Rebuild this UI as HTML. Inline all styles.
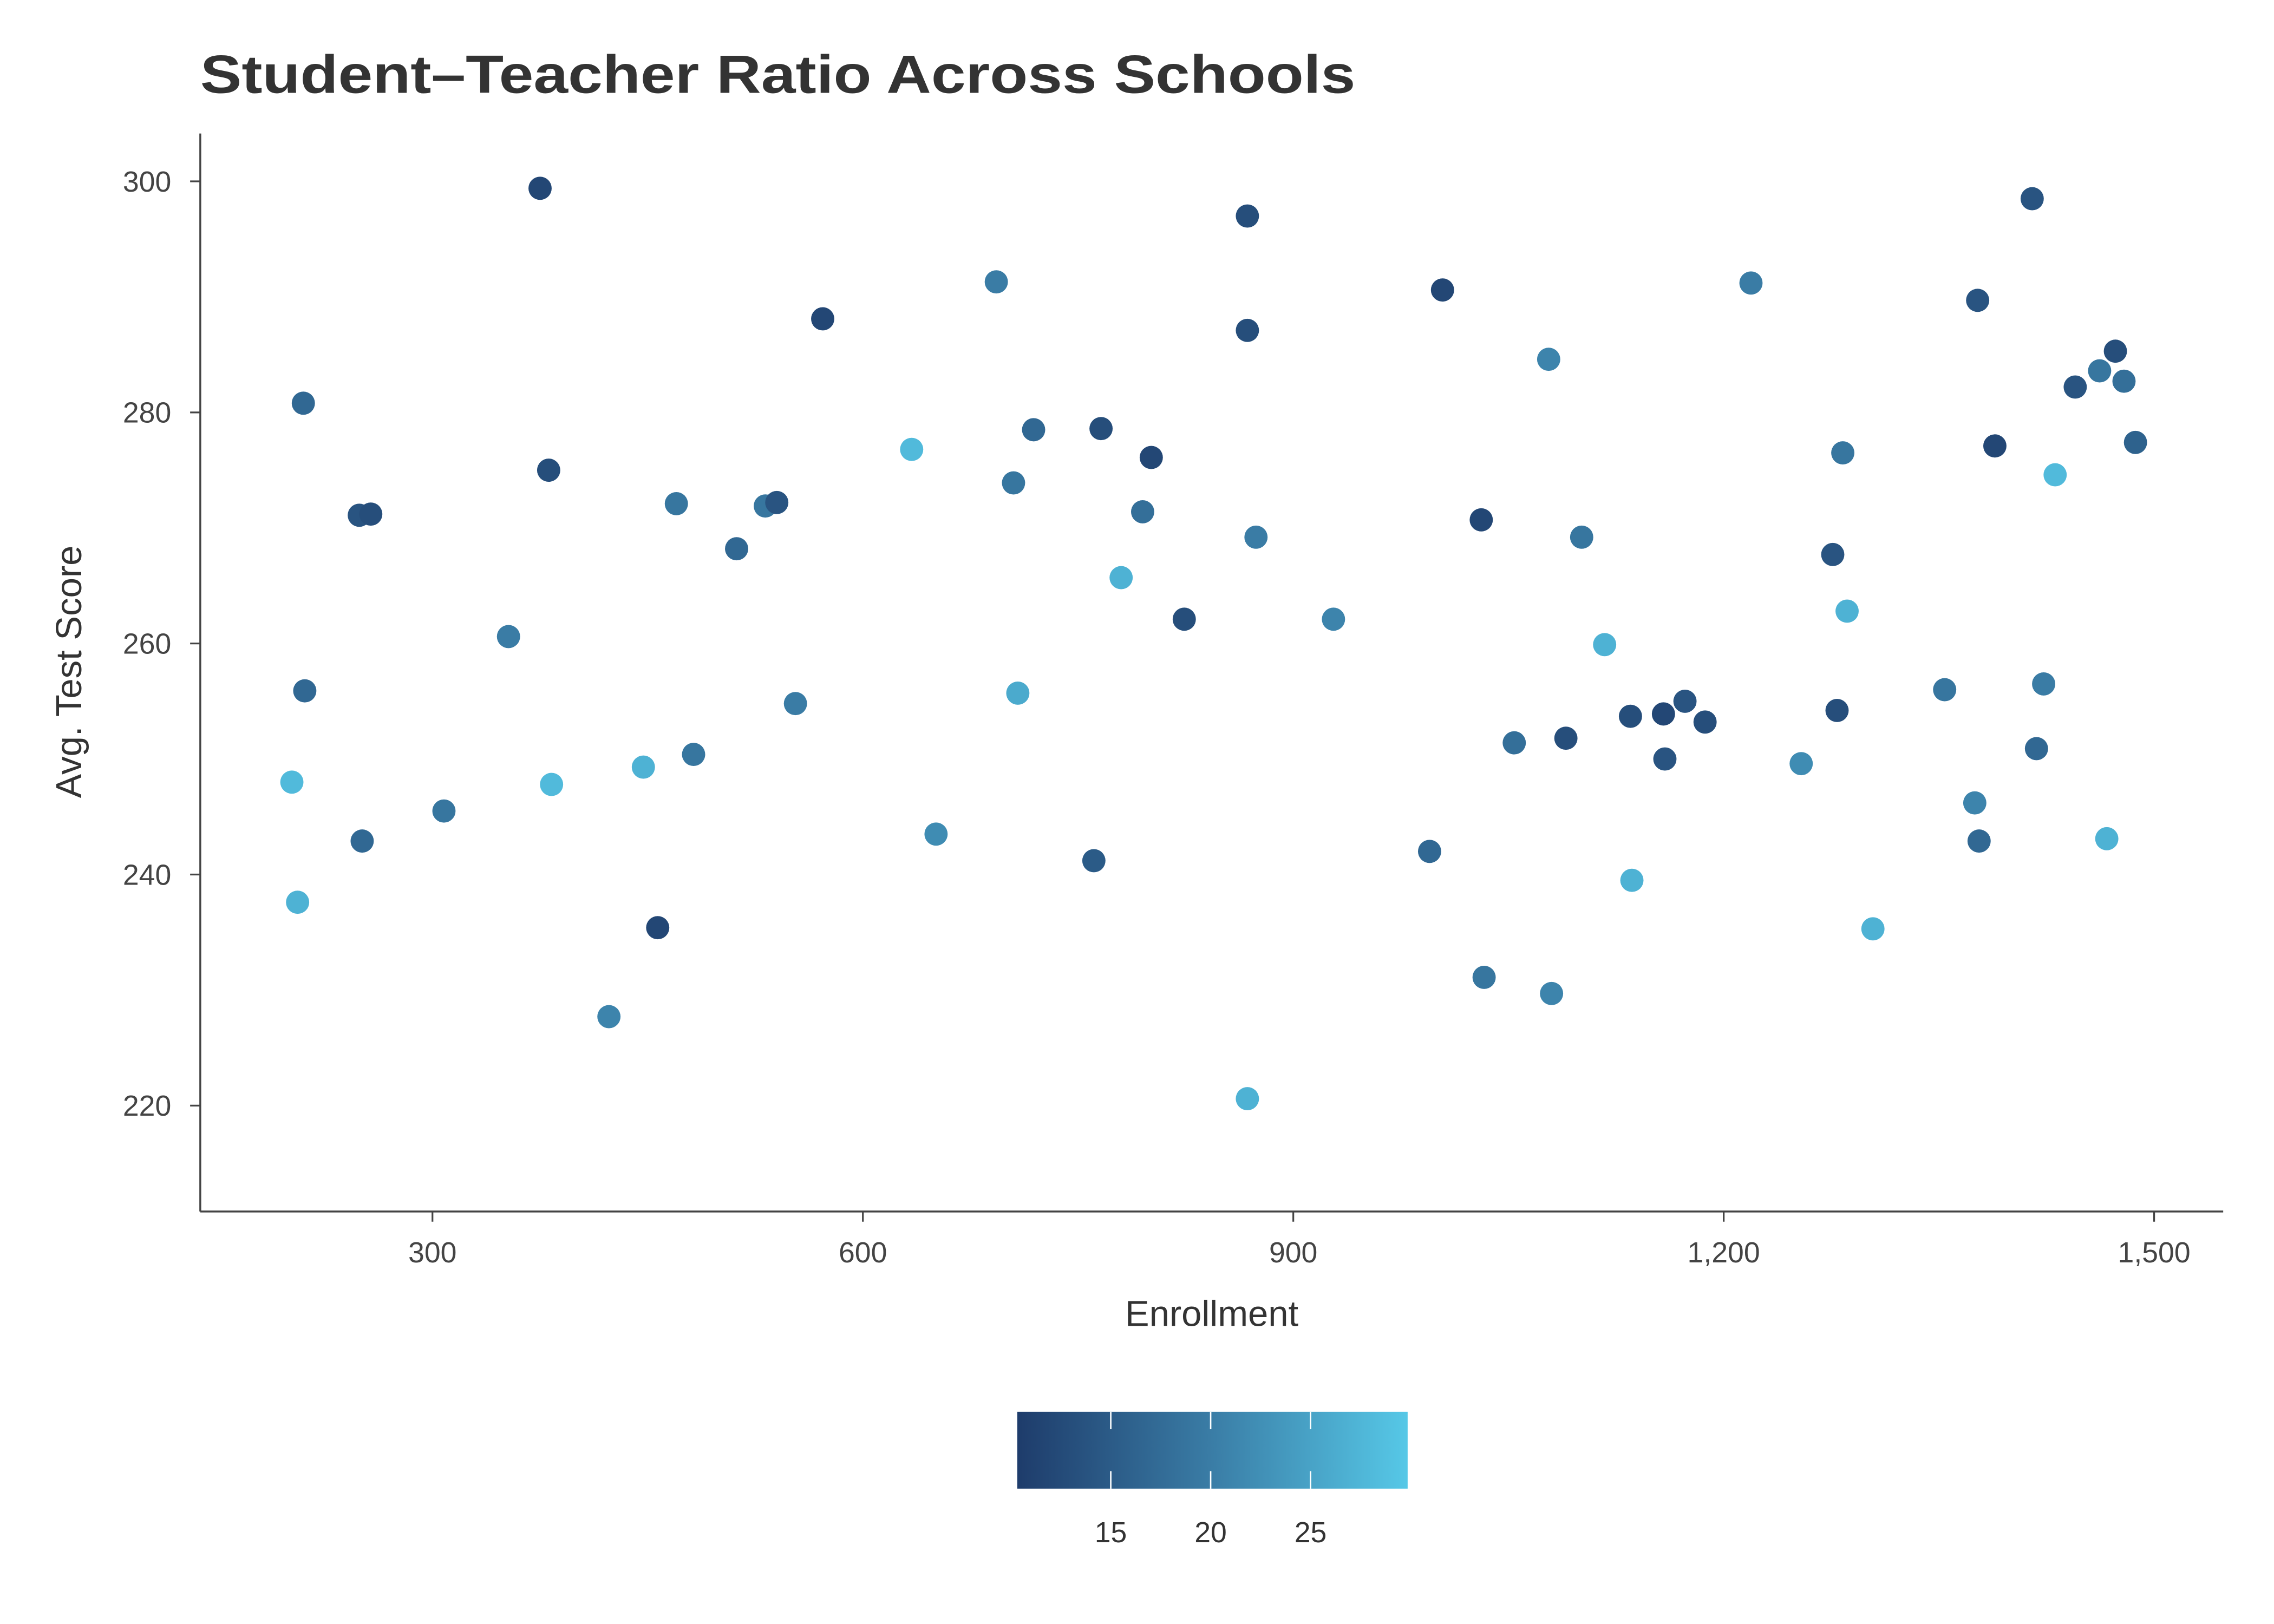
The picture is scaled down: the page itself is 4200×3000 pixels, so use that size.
<!DOCTYPE html>
<html><head><meta charset="utf-8">
<style>
html,body{margin:0;padding:0;background:#fff;}
svg{display:block;font-family:"Liberation Sans",sans-serif;}
</style></head>
<body>
<svg id="chart" width="4200" height="3000" viewBox="0 0 1567 1119.3" xmlns="http://www.w3.org/2000/svg">
<defs>
<linearGradient id="cg" x1="0" x2="1" y1="0" y2="0">
<stop offset="0" stop-color="#1e3c6b"/>
<stop offset="0.5" stop-color="#3a7da6"/>
<stop offset="1" stop-color="#56c8e7"/>
</linearGradient>
</defs>
<text x="138" y="64" font-size="37" font-weight="bold" fill="#333" textLength="796" lengthAdjust="spacingAndGlyphs">Student–Teacher Ratio Across Schools</text>
<g id="plot"></g>
<line x1="138" y1="92" x2="138" y2="835" stroke="#444" stroke-width="1.3"/>
<line x1="138" y1="835" x2="1532" y2="835" stroke="#444" stroke-width="1.3"/>
<text x="835" y="914" font-size="25" fill="#333" text-anchor="middle">Enrollment</text>
<text transform="translate(56,463) rotate(-90)" font-size="25" fill="#333" text-anchor="middle">Avg. Test Score</text>
<rect x="701" y="973" width="269" height="53" fill="url(#cg)"/>
<g id="cbar"></g>
</svg>
<script>
const enrollment=[375,210,249,257,381,211,202,206,251,308,353,383,423,447,457,470,482,512,532,540,553,572,634,651,693,705,708,719,761,766,780,795,801,824,868,868,874,868,928,1004,995,1031,1033,1054,1078,1080,1090,1101,1117,1135,1136,1158,1159,1173,1187,1219,1254,1276,1279,1283,1286,1304,1354,1375,1377,1378,1389,1415,1418,1423,1431,1445,1462,1467,1473,1479,1487];
const scores=[299.4,280.8,271.1,271.2,275.0,255.9,248.0,237.6,242.9,245.5,260.6,247.8,227.7,249.3,235.4,272.1,250.4,268.2,271.9,272.2,254.8,288.1,276.8,243.5,291.3,273.9,255.7,278.5,241.2,278.6,265.7,271.4,276.1,262.1,297.0,287.1,269.2,220.6,262.1,290.6,242.0,270.7,231.1,251.4,284.6,229.7,251.8,269.2,259.9,253.7,239.5,253.9,250.0,255.0,253.2,291.2,249.6,267.7,254.2,276.5,262.8,235.3,256.0,246.2,289.7,242.9,277.1,298.5,250.9,256.5,274.6,282.2,283.6,243.1,285.3,282.7,277.4];
const ratios=[12,17,14,13,13,17,28,27,17,19,20,28,21,27,12,19,19,17,19,14,20,12,28,22,20,19,26,17,15,13,27,18,12,13,13,13,20,27,21,12,17,12,19,18,21,21,13,19,27,13,27,12,14,14,13,20,22,14,13,19,27,27,19,21,14,17,12,14,17,20,28,14,19,27,13,18,16];
const xTicks=[300,600,900,1200,1500];
const xTickLabels=["300","600","900","1,200","1,500"];
const yTicks=[220,240,260,280,300];
const cTicks=[15,20,25];

const NS="http://www.w3.org/2000/svg";
const xs=v=>298+(v-300)*0.98867;
const ys=v=>762-(v-220)*7.9625;
const cMin=10.32,cMax=29.86;
const cx=v=>701+(v-cMin)/(cMax-cMin)*269;
function lerp(a,b,t){return a.map((x,i)=>Math.round(x+(b[i]-x)*t));}
function color(r){
  let t=Math.max(0,Math.min(1,(r-cMin)/(cMax-cMin)));
  const c0=[30,60,107],c1=[58,125,166],c2=[86,200,231];
  const c=t<0.5?lerp(c0,c1,t*2):lerp(c1,c2,(t-0.5)*2);
  return `rgb(${c[0]},${c[1]},${c[2]})`;
}
const plot=document.getElementById('plot');
function mk(tag,attrs,parent){const e=document.createElementNS(NS,tag);for(const k in attrs)e.setAttribute(k,attrs[k]);parent.appendChild(e);return e;}
xTicks.forEach((v,i)=>{
  const l=mk('line',{x1:xs(v),x2:xs(v),y1:835,y2:842,stroke:'#444','stroke-width':1.2},plot);
  
  
  const t=mk('text',{x:xs(v),y:870,'font-size':20,fill:'#444','text-anchor':'middle'},plot);
  t.textContent=xTickLabels[i];
  
  
});
yTicks.forEach(v=>{
  const l=mk('line',{x1:131,x2:138,y1:ys(v),y2:ys(v),stroke:'#444','stroke-width':1.2},plot);
  
  
  const t=mk('text',{x:118,y:ys(v)+7,'font-size':20,fill:'#444','text-anchor':'end'},plot);
  t.textContent=v;
  
  
});
enrollment.forEach((e,i)=>{
  const c=mk('circle',{cx:xs(e),cy:ys(scores[i]),r:8,fill:color(ratios[i])},plot);
  
  
});
const cb=document.getElementById('cbar');
cTicks.forEach(v=>{
  const a=mk('line',{x1:cx(v),x2:cx(v),y1:973,y2:985,stroke:'#fff','stroke-width':1},cb);
  
  
  const b=mk('line',{x1:cx(v),x2:cx(v),y1:1014,y2:1026,stroke:'#fff','stroke-width':1},cb);
  
  
  const t=mk('text',{x:cx(v),y:1063,'font-size':20,fill:'#333','text-anchor':'middle'},cb);
  t.textContent=v;
  
  
});
</script>
</body></html>
